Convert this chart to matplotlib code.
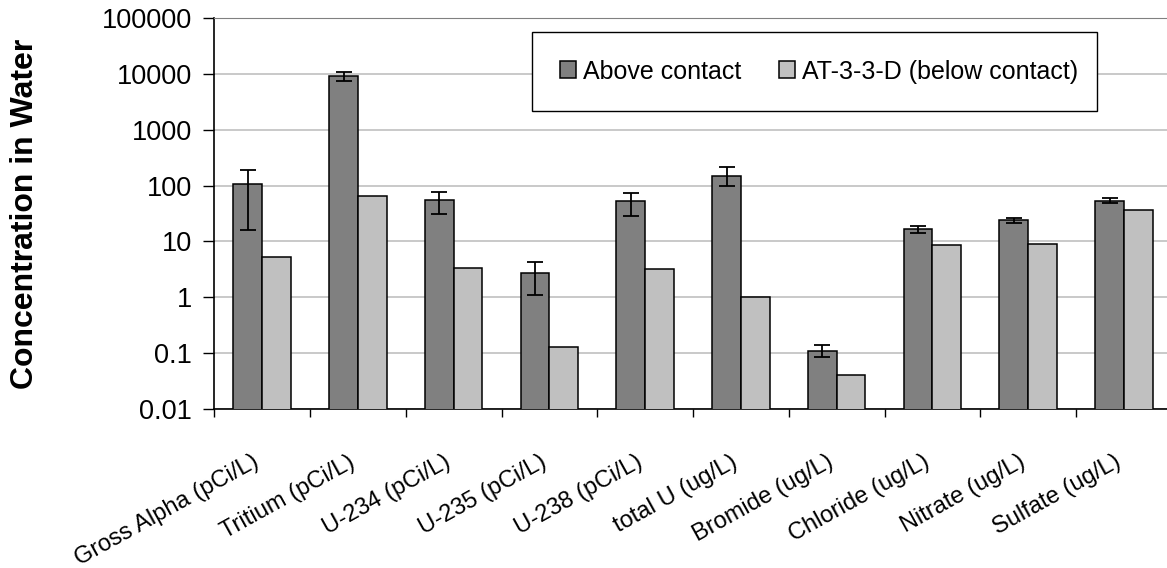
import matplotlib.pyplot as plt
from matplotlib.patches import Rectangle
from matplotlib.transforms import ScaledTranslation
import numpy as np

plt.rcParams['font.family'] = ['Liberation Sans', 'DejaVu Sans']

# analytes and measured concentrations
analytes = ['Gross Alpha (pCi/L)', 'Tritium (pCi/L)', 'U-234 (pCi/L)', 'U-235 (pCi/L)',
            'U-238 (pCi/L)', 'total U (ug/L)', 'Bromide (ug/L)', 'Chloride (ug/L)',
            'Nitrate (ug/L)', 'Sulfate (ug/L)']
above = [107, 9100, 56, 2.7, 52, 151, 0.109, 16.4, 24.7, 52]
above_lo = [16, 7400, 31, 1.09, 29, 99, 0.085, 13.9, 21, 48]
above_hi = [186, 10500, 76, 4.3, 73, 214, 0.139, 19.3, 26.8, 61]
below = [5.2, 66, 3.4, 0.128, 3.16, 1.0, 0.040, 8.5, 9.2, 37]

ytick_vals = [0.01, 0.1, 1, 10, 100, 1000, 10000, 100000]
ytick_labels = ['0.01', '0.1', '1', '10', '100', '1000', '10000', '100000']

dark = '#808080'
light = '#c0c0c0'

fig = plt.figure(figsize=(11.67, 5.68), dpi=100)
ax = fig.add_axes([0.1836, 0.2794, 0.8205, 0.6894])
ax.set_yscale('log')

x = np.arange(len(analytes))
w = 0.3
above = np.array(above)
yerr = [above - np.array(above_lo), np.array(above_hi) - above]

ax.bar(x - w / 2, above, w, bottom=0.001, color=dark, edgecolor='black', linewidth=1.1,
       label='Above contact', zorder=3)
ax.bar(x + w / 2, below, w, bottom=0.001, color=light, edgecolor='black', linewidth=1.1,
       label='AT-3-3-D (below contact)', zorder=3)
ax.errorbar(x - w / 2, above, yerr=yerr, fmt='none', ecolor='black', elinewidth=1.3,
            capsize=5.5, capthick=1.3, zorder=4)

ax.set_ylim(0.01, 100000)
ax.set_xlim(-0.5, len(analytes) - 0.5)

ax.set_yticks(ytick_vals)
ax.set_yticklabels(ytick_labels, fontsize=19.5)
ax.yaxis.set_minor_locator(plt.NullLocator())
ax.tick_params(axis='y', direction='out', length=8, width=1, pad=8)
ax.grid(axis='y', color='#c0c0c0', linewidth=1.2, zorder=0)

ax.set_xticks(x)
ax.set_xticklabels(analytes, rotation=29, ha='right', va='top', rotation_mode='anchor',
                   fontsize=17)
ax.set_xticks(np.arange(len(analytes) + 1) - 0.5, minor=True)
ax.tick_params(axis='x', which='major', length=0, pad=30)
ax.tick_params(axis='x', which='minor', direction='out', length=6, width=1)
shift = ScaledTranslation(-10 / 100, 0, fig.dpi_scale_trans)
for lbl in ax.get_xticklabels():
    lbl.set_transform(lbl.get_transform() + shift)

ax.spines['right'].set_visible(False)
ax.spines['top'].set_color('#808080')
ax.spines['left'].set_linewidth(1.2)
ax.spines['bottom'].set_linewidth(1.2)

ax.set_ylabel('Concentration in Water', fontsize=23, fontweight='bold')
ax.yaxis.set_label_coords(-0.182, 0.5)

# legend frame drawn separately so its height can be set
ax.add_patch(Rectangle((0.332, 0.762), 0.59, 0.2015, transform=ax.transAxes,
                       facecolor='white', edgecolor='black', linewidth=1, zorder=5))
leg = ax.legend(loc='center', bbox_to_anchor=(0.632, 0.8626), ncol=2, frameon=False,
                fontsize=18, handlelength=0.65, handleheight=0.65, handletextpad=0.28,
                columnspacing=1.5)
leg.set_zorder(6)

fig.savefig('out.png', dpi=100)
